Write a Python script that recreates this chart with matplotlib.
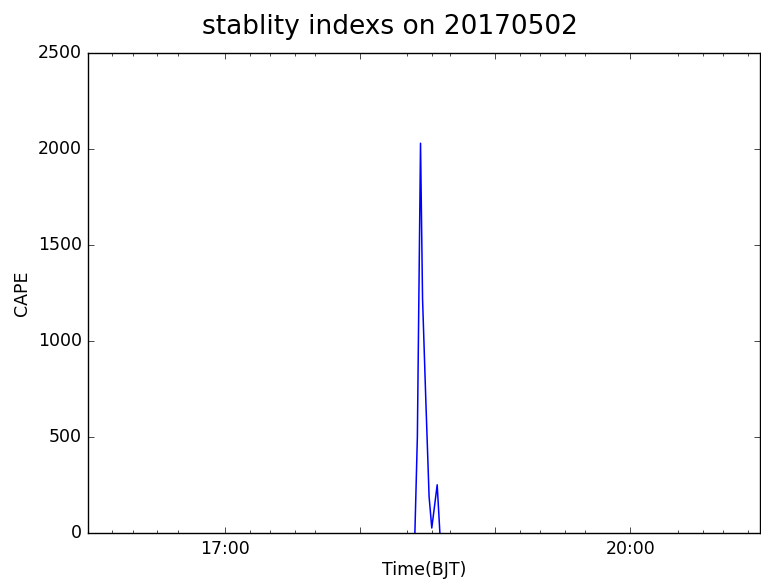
import datetime as dt
import matplotlib
matplotlib.use('Agg')
from matplotlib import pyplot as plt
import matplotlib.dates as mdates
import matplotlib.ticker as mticker

plt.style.use('classic')

dia = dt.date(2017, 5, 2)

# datos de CAPE (hora BJT, valor)
horas = ['18:24:18', '18:25:24', '18:26:48', '18:27:42', '18:29:06',
         '18:30:36', '18:31:48', '18:34:12', '18:35:24']
cape = [0, 500, 2030, 1220, 710, 190, 26, 251, 0]

ticks_mayores = ['17:00', '18:00', '19:00', '20:00']
etiquetas_mayores = ['17:00', '', '', '20:00']
ticks_menores = ['16:10', '16:19', '16:30', '16:39',
                 '17:11', '17:20', '17:31', '17:40',
                 '18:21', '18:32', '18:40',
                 '19:11', '19:20', '19:31', '19:40',
                 '20:21', '20:32', '20:41', '20:52']
limites_x = ['15:58:58', '20:57:30']


def a_fecha(texto):
    partes = [int(p) for p in texto.split(':')]
    while len(partes) < 3:
        partes.append(0)
    return dt.datetime(dia.year, dia.month, dia.day, *partes)


x = [a_fecha(h) for h in horas]

fig = plt.figure(figsize=(7.61, 5.79), dpi=100, facecolor='white')
ax = fig.add_axes([87.5 / 761, 46 / 579, (760 - 87.5) / 761, (533 - 53) / 579])
ax.plot(x, cape, color='b', linewidth=1.1)

ax.set_xlim(mdates.date2num(a_fecha(limites_x[0])), mdates.date2num(a_fecha(limites_x[1])))
ax.set_ylim(0, 2500)
ax.set_yticks([0, 500, 1000, 1500, 2000, 2500])

ax.xaxis.set_major_locator(mticker.FixedLocator([mdates.date2num(a_fecha(t)) for t in ticks_mayores]))
ax.xaxis.set_major_formatter(mticker.FixedFormatter(etiquetas_mayores))
ax.xaxis.set_minor_locator(mticker.FixedLocator([mdates.date2num(a_fecha(t)) for t in ticks_menores]))
ax.tick_params(axis='both', labelsize=12.5)
ax.tick_params(axis='x', pad=5)

ax.set_xlabel('Time(BJT)', fontsize=12.5, labelpad=2)
ax.set_ylabel('CAPE', fontsize=12.5)
fig.suptitle('stablity indexs on 20170502', fontsize=19, x=390 / 761, y=0.975)

fig.savefig('out.png', dpi=100, facecolor='white')
